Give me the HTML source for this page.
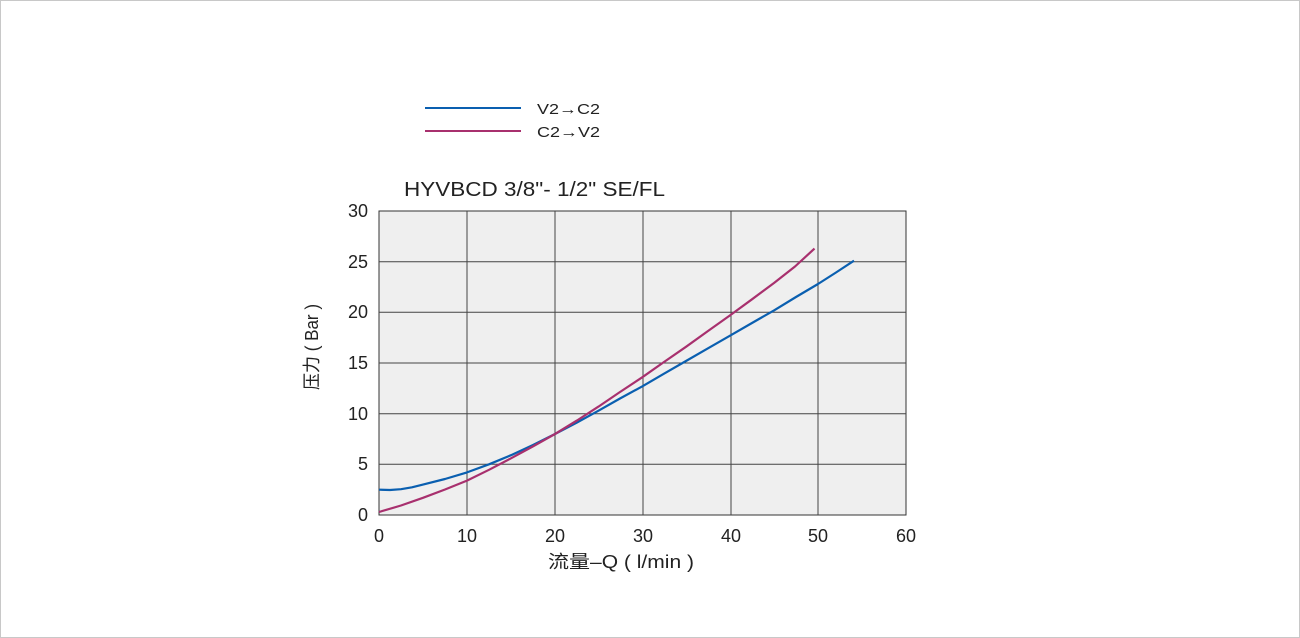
<!DOCTYPE html>
<html><head><meta charset="utf-8"><style>
html,body{margin:0;padding:0;background:#fff}
svg{display:block}
text{font-family:"Liberation Sans","Noto Sans CJK SC",sans-serif;fill:#222}
</style></head><body>
<svg width="1300" height="638" viewBox="0 0 1300 638" xmlns="http://www.w3.org/2000/svg">
<rect x="0.5" y="0.5" width="1299" height="637" fill="#fff" stroke="#c8c8c8"/>
<line x1="425" y1="108" x2="521" y2="108" stroke="#0a5fb0" stroke-width="2"/>
<line x1="425" y1="131" x2="521" y2="131" stroke="#a8306e" stroke-width="2"/>
<text x="537" y="114" font-size="15" textLength="63" lengthAdjust="spacingAndGlyphs">V2→C2</text>
<text x="537" y="137" font-size="15" textLength="63" lengthAdjust="spacingAndGlyphs">C2→V2</text>
<text x="404" y="196" font-size="20" textLength="261" lengthAdjust="spacingAndGlyphs">HYVBCD 3/8"- 1/2" SE/FL</text>
<rect x="379" y="211" width="527" height="304" fill="#efefef" stroke="#333" stroke-width="1"/>
<g stroke="#444" stroke-width="1">
<line x1="467" y1="211" x2="467" y2="515"/><line x1="555" y1="211" x2="555" y2="515"/>
<line x1="643" y1="211" x2="643" y2="515"/><line x1="731" y1="211" x2="731" y2="515"/>
<line x1="818" y1="211" x2="818" y2="515"/>
<line x1="379" y1="261.7" x2="906" y2="261.7"/><line x1="379" y1="312.3" x2="906" y2="312.3"/>
<line x1="379" y1="363" x2="906" y2="363"/><line x1="379" y1="413.7" x2="906" y2="413.7"/>
<line x1="379" y1="464.3" x2="906" y2="464.3"/>
</g>
<g font-size="18" text-anchor="end">
<text x="368" y="217">30</text><text x="368" y="268">25</text><text x="368" y="318">20</text>
<text x="368" y="369">15</text><text x="368" y="420">10</text><text x="368" y="470">5</text><text x="368" y="521">0</text>
</g>
<g font-size="18" text-anchor="middle">
<text x="379" y="542">0</text><text x="467" y="542">10</text><text x="555" y="542">20</text>
<text x="643" y="542">30</text><text x="731" y="542">40</text><text x="818" y="542">50</text><text x="906" y="542">60</text>
</g>
<text x="548" y="568" font-size="18" textLength="146" lengthAdjust="spacingAndGlyphs">流量–Q ( l/min )</text>
<text transform="translate(318,390) rotate(-90)" font-size="18" textLength="86" lengthAdjust="spacingAndGlyphs">压力 ( Bar )</text>
<polyline fill="none" stroke="#0a5fb0" stroke-width="2.2" stroke-linejoin="round" points="379,489.7 390,490 401,489.2 412,487.3 423,484.6 445,479 467,472.4 489,464.3 511,455.2 533,445 555,434 577,422.5 598.5,410.7 620,398.5 642.4,386.3 664,373.7 686,361 708,348.3 730,335.7 752,323 774,310.4 796,297 818,284 836,272.5 854,260.7"/>
<polyline fill="none" stroke="#a8306e" stroke-width="2.2" stroke-linejoin="round" points="379,512 401,505.5 423,497.8 445,489.5 467,480.6 489,469.8 511,458.3 533,446.4 555,434 577,420.5 598.5,406.6 620,392 642.4,377.2 664,362 686,346.8 708,331 730,315.4 752,299.3 774,283 795,266.5 814.5,248.6"/>
</svg>
</body></html>
